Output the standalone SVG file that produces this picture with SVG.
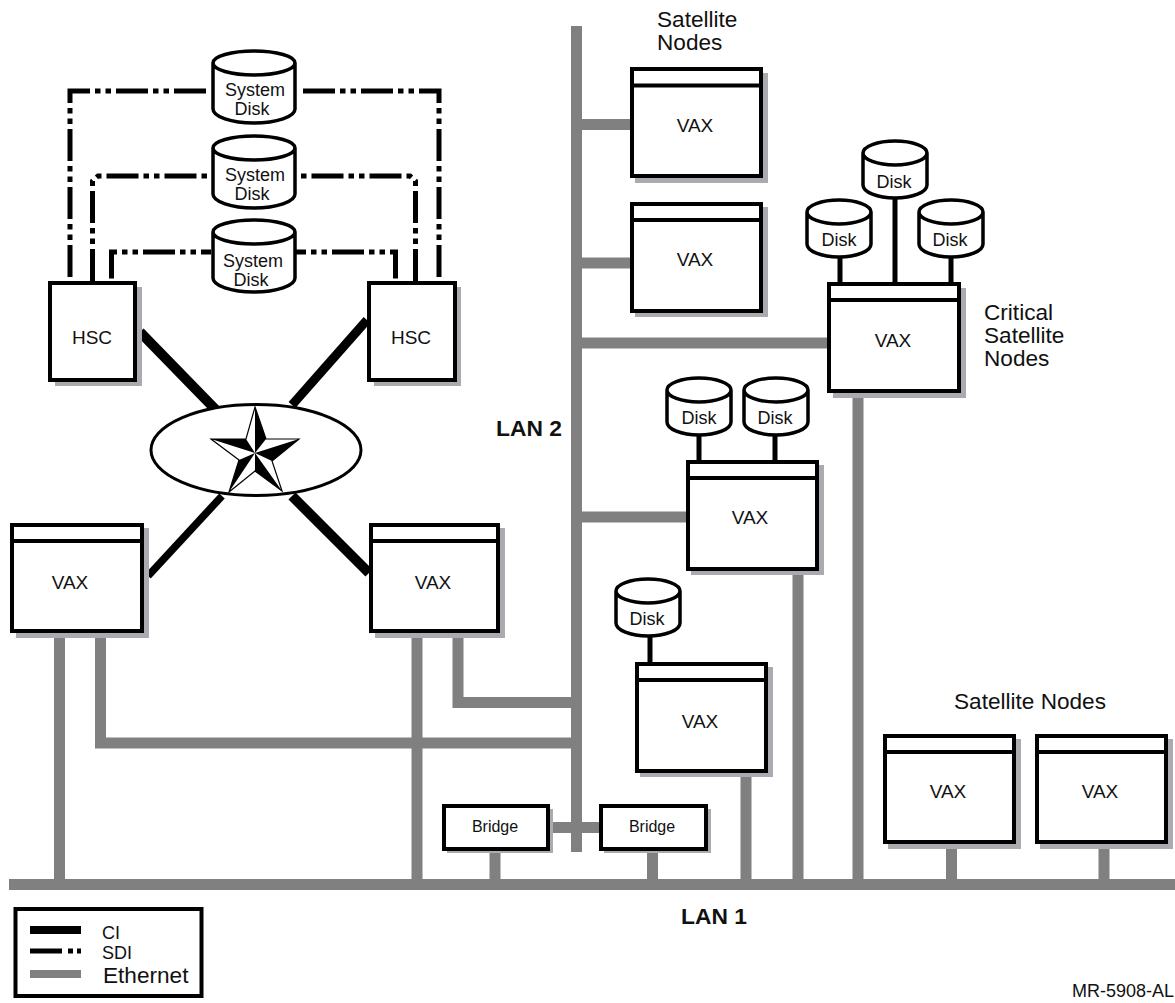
<svg xmlns="http://www.w3.org/2000/svg" xmlns:xlink="http://www.w3.org/1999/xlink" width="1175" height="1003" viewBox="0 0 1175 1003">
<style>
text{font-family:"Liberation Sans",Arial,sans-serif;fill:#111;font-size:18px}
.m{text-anchor:middle}
.v{font-size:19px}
.l{font-size:22.600px}
.b{font-size:22.800px;font-weight:bold}
.br{font-size:16px}
.box{fill:#fff;stroke:#000;stroke-width:4}
.sh{fill:#aaaab0}
.bar{stroke:#000;stroke-width:4;fill:none}
.eth{stroke:#808080;stroke-width:11;fill:none}
.ci{stroke:#000;stroke-width:10;fill:none}
.sdi{stroke:#000;stroke-width:5;fill:none;stroke-dasharray:32 5 5.5 5 5.5 5}
.stub{stroke:#000;stroke-width:5;fill:none}
.dsk{fill:#fff;stroke:#000;stroke-width:3.5}
</style>
<defs>
<path id="sysdisk" class="dsk" d="M2,14V60A41,14 0 0 0 84,60V14A41,12 0 0 0 2,14A41,12 0 0 0 84,14"/>
<path id="disk" class="dsk" d="M2,14V46A32,13 0 0 0 66,46V14A32,12 0 0 0 2,14A32,12 0 0 0 66,14"/>
</defs>
<rect width="1175" height="1003" fill="#fff"/>
<g id="connectors">
<path class="eth" d="M9,884.500H1175M576.500,26V852M576.500,124.500H631M576.500,263H631M576.500,343H828M576.500,517H687M550,827.500H600M59.500,632V884M100.500,632V743H576M417,632V884M458,632V702.500H576M495,850V884M652.500,850V884M746,772V884M798,570V884M858,393V884M951.500,843V884M1104,843V884"/>
<path class="ci" d="M140,332L216,410M292,496L369,573"/>
<path class="ci" style="stroke-width:9" d="M367,320L292,405"/>
<path class="ci" style="stroke-width:7.500" d="M148,576L222,496"/>
<path class="sdi" d="M206,91H70V281"/>
<path class="sdi" d="M303,91H439V281"/>
<path class="sdi" stroke-dashoffset="47.500" d="M207,176H98L92.500,181V281"/>
<path class="sdi" stroke-dashoffset="47.500" d="M301,176H410L415.500,181V281"/>
<path class="sdi" stroke-dashoffset="22" d="M211,252H111.500V281"/>
<path class="sdi" stroke-dashoffset="22" d="M296,252H395.500V281"/>
<path class="stub" d="M840,258V283M895,199V283M951,258V283M699,436V461M775,436V461M650,637V663"/>
</g>
<g id="sysdisk1"><use xlink:href="#sysdisk" href="#sysdisk" x="211" y="49"/><text class="m" x="255" y="96">System</text><text class="m" x="252" y="115">Disk</text></g>
<g id="sysdisk2"><use xlink:href="#sysdisk" href="#sysdisk" x="211" y="134"/><text class="m" x="255" y="181">System</text><text class="m" x="252" y="200">Disk</text></g>
<g id="sysdisk3"><use xlink:href="#sysdisk" href="#sysdisk" x="211" y="218"/><text class="m" x="253" y="267">System</text><text class="m" x="251" y="286">Disk</text></g>
<g id="hsc1"><rect class="sh" x="55" y="287" width="87" height="99"/><rect class="box" x="50" y="283" width="85" height="97"/><text class="v m" x="92" y="344">HSC</text></g>
<g id="hsc2"><rect class="sh" x="374" y="287" width="87" height="99"/><rect class="box" x="369" y="283" width="86" height="97"/><text class="v m" x="411" y="344">HSC</text></g>
<g id="star-coupler">
<ellipse cx="256" cy="450" rx="105" ry="45.500" fill="#fff" stroke="#000" stroke-width="3"/>
<path fill="#fff" stroke="#000" stroke-width="1.200" stroke-linejoin="miter" d="M255,407L266,439H299L272,461L282,491L255,471L229,492L239,460L211,439H246Z"/>
<path fill="#000" d="M255,407L266,439L255,453ZM299,439L272,461L255,453ZM282,491L255,471L255,453ZM229,492L239,460L255,453ZM211,439H246L255,453Z"/>
</g>
<g id="vax-left"><rect class="sh" x="16" y="528" width="133" height="110"/><rect class="box" x="12" y="525" width="130" height="106"/><path class="bar" d="M12,541H142"/><text class="v m" x="70" y="589">VAX</text></g>
<g id="vax-right"><rect class="sh" x="375" y="528" width="130" height="110"/><rect class="box" x="371" y="525" width="127" height="106"/><path class="bar" d="M371,541H498"/><text class="v m" x="433" y="589">VAX</text></g>
<g id="vax-sat1"><rect class="sh" x="635" y="73" width="133" height="110"/><rect class="box" x="632" y="69" width="129" height="107"/><path class="bar" d="M632,85.500H761"/><text class="v m" x="695" y="132">VAX</text></g>
<g id="vax-sat2"><rect class="sh" x="635" y="207" width="133" height="110"/><rect class="box" x="632" y="204" width="129" height="107"/><path class="bar" d="M632,220H761"/><text class="v m" x="695" y="266">VAX</text></g>
<g id="vax-critical"><rect class="sh" x="833" y="288" width="133" height="110"/><rect class="box" x="829" y="284" width="130" height="107"/><path class="bar" d="M829,300H959"/><text class="v m" x="893" y="347">VAX</text></g>
<g id="vax-mid"><rect class="sh" x="691" y="465" width="133" height="110"/><rect class="box" x="688" y="462" width="129" height="107"/><path class="bar" d="M688,478H817"/><text class="v m" x="750" y="524">VAX</text></g>
<g id="vax-low"><rect class="sh" x="640" y="667" width="133" height="110"/><rect class="box" x="637" y="664" width="129" height="107"/><path class="bar" d="M637,680H766"/><text class="v m" x="700" y="728">VAX</text></g>
<g id="vax-sn1"><rect class="sh" x="888" y="739" width="133" height="110"/><rect class="box" x="885" y="736" width="129" height="106"/><path class="bar" d="M885,752H1014"/><text class="v m" x="948" y="798">VAX</text></g>
<g id="vax-sn2"><rect class="sh" x="1040" y="739" width="133" height="110"/><rect class="box" x="1037" y="736" width="129" height="106"/><path class="bar" d="M1037,752H1166"/><text class="v m" x="1100" y="798">VAX</text></g>
<g id="disk-top"><use xlink:href="#disk" href="#disk" x="861" y="139"/><text class="m" x="894" y="188">Disk</text></g>
<g id="disk-left"><use xlink:href="#disk" href="#disk" x="805" y="198"/><text class="m" x="839" y="246">Disk</text></g>
<g id="disk-right"><use xlink:href="#disk" href="#disk" x="917" y="198"/><text class="m" x="950" y="246">Disk</text></g>
<g id="disk-mid1"><use xlink:href="#disk" href="#disk" x="665" y="376"/><text class="m" x="699" y="424">Disk</text></g>
<g id="disk-mid2"><use xlink:href="#disk" href="#disk" x="742" y="376"/><text class="m" x="775" y="424">Disk</text></g>
<g id="disk-low"><use xlink:href="#disk" href="#disk" x="614" y="577"/><text class="m" x="647" y="625">Disk</text></g>
<g id="bridge1"><rect class="sh" x="447" y="809" width="106" height="44"/><rect class="box" x="444" y="806" width="104" height="43"/><text class="br m" x="495" y="832">Bridge</text></g>
<g id="bridge2"><rect class="sh" x="604" y="809" width="107" height="44"/><rect class="box" x="601" y="806" width="105" height="43"/><text class="br m" x="652" y="832">Bridge</text></g>
<g id="labels">
<text class="l" x="657" y="27">Satellite</text><text class="l" x="657" y="50">Nodes</text>
<text class="l" x="984" y="320">Critical</text><text class="l" x="984" y="343">Satellite</text><text class="l" x="984" y="366">Nodes</text>
<text class="l" x="954" y="709">Satellite Nodes</text>
<text class="b" x="496" y="436">LAN 2</text>
<text class="b" x="681" y="924">LAN 1</text>
<text x="1072" y="997">MR-5908-AL</text>
</g>
<g id="legend">
<rect x="15.500" y="909" width="186" height="87" fill="#fff" stroke="#000" stroke-width="4"/>
<path stroke="#000" stroke-width="8" d="M30,930H81"/>
<path stroke="#000" stroke-width="5" d="M30,951H62M68,951H73M77,951H81"/>
<path stroke="#808080" stroke-width="8" d="M30,974H81"/>
<text x="102" y="939">CI</text><text x="102" y="959">SDI</text><text class="l" x="103" y="983">Ethernet</text>
</g>
</svg>
